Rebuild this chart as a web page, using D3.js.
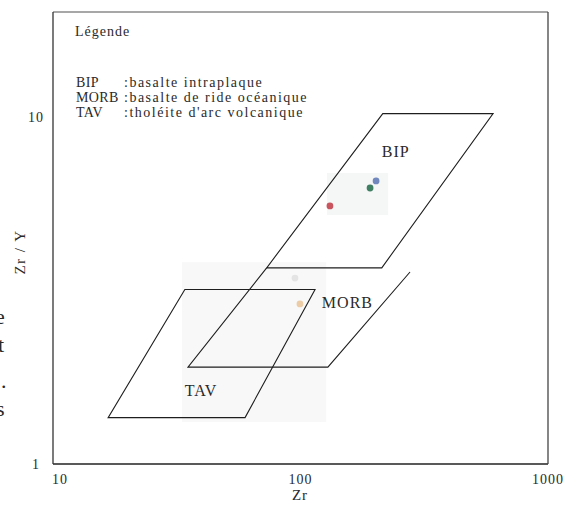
<!DOCTYPE html>
<html><head><meta charset="utf-8">
<script src="https://cdn.jsdelivr.net/npm/d3@7"></script>
<style>
body{margin:0;background:#fff}
svg{display:block}
text{font-family:"Liberation Serif","DejaVu Serif",serif;fill:#2a2a2a}
</style>
</head><body><svg width="575" height="507"></svg>
<script>
// ---- data ----
const xTicks = [10, 100, 1000];
const yTicks = [1, 10];
const xTitle = "Zr";
const yTitle = "Zr / Y";
const fieldNames = ["BIP", "MORB", "TAV"];
const bipField  = [[73, 3.67], [213, 3.67], [600, 10.2], [215, 10.2]];
const morbField = [[73, 3.67], [35.1, 1.9], [129, 1.9], [277, 3.57]];
const tavField  = [[34.1, 3.18], [114.5, 3.18], [59.7, 1.36], [16.7, 1.36]];
const fieldLabelZr  = [213, 122, 34.1];
const fieldLabelZrY = [7.65, 2.81, 1.57];
const sampleZr  = [131.5, 191, 202, 95, 99.5];
const sampleZrY = [5.53, 6.23, 6.53, 3.43, 2.89];
const sampleColors = ["#c9555f", "#3f7f62", "#7088bd", "#e4e4e4", "#ebcca6"];
const legendTitle = "Légende";
const legendCodes = ["BIP", "MORB", "TAV"];
const legendDescs = [":basalte intraplaque", ":basalte de ride océanique", ":tholéite d'arc volcanique"];
const shadeZr  = [[128, 226], [33.2, 127]];
const shadeZrY = [[5.21, 6.88], [1.32, 3.81]];
const marginFragments = ["e", "t", ".", "s"];

// ---- layout ----
const svg = d3.select("svg");
const x = d3.scaleLog().domain([10, 1000]).range([53, 548]);
const y = d3.scaleLog().domain([1, 20]).range([464, 12]);

// faint scan shading
svg.selectAll("rect.shade").data(shadeZr).join("rect")
  .attr("x", (d) => x(d[0])).attr("width", (d) => x(d[1]) - x(d[0]))
  .attr("y", (d, i) => y(shadeZrY[i][1]))
  .attr("height", (d, i) => y(shadeZrY[i][0]) - y(shadeZrY[i][1]))
  .attr("fill", (d, i) => i === 0 ? "#f5f7f7" : "#f8f8f8");

// frame
const [x0, x1] = x.range(), [y0, y1] = y.range();
svg.append("line").attr("x1", x0).attr("x2", x1).attr("y1", y1).attr("y2", y1)
  .attr("stroke", "#8a8a8a").attr("stroke-width", 1.3);
svg.append("line").attr("x1", x0).attr("x2", x1).attr("y1", y0).attr("y2", y0)
  .attr("stroke", "#222").attr("stroke-width", 1.6);
svg.append("line").attr("x1", x0).attr("x2", x0).attr("y1", y1).attr("y2", y0)
  .attr("stroke", "#333").attr("stroke-width", 1.3);
svg.append("line").attr("x1", x1).attr("x2", x1).attr("y1", y1).attr("y2", y0)
  .attr("stroke", "#444").attr("stroke-width", 1.3);

// tick labels
svg.selectAll("text.xt").data(xTicks).join("text")
  .attr("x", (d, i) => x(d) + (i === 0 ? 7 : 0)).attr("y", 484)
  .attr("text-anchor", "middle").attr("font-size", 14).attr("letter-spacing", 1)
  .text((d) => d);
svg.selectAll("text.yt").data(yTicks).join("text")
  .attr("x", 36).attr("y", (d) => y(d) + 5)
  .attr("text-anchor", "middle").attr("font-size", 14).attr("letter-spacing", 1)
  .text((d) => d);

svg.append("text").attr("x", 300).attr("y", 500).attr("text-anchor", "middle")
  .attr("font-size", 15).attr("letter-spacing", 1).text(xTitle);
svg.append("text").attr("transform", "translate(25,252) rotate(-90)")
  .attr("text-anchor", "middle").attr("font-size", 15).attr("letter-spacing", 1.5)
  .text(yTitle);

// fields
const line = d3.line().x((d) => x(d[0])).y((d) => y(d[1]));
[bipField, tavField].forEach((f) => {
  svg.append("path").attr("d", line(f) + "Z")
    .attr("fill", "none").attr("stroke", "#1e1e1e").attr("stroke-width", 1.1);
});
svg.append("path").attr("d", line(morbField))
  .attr("fill", "none").attr("stroke", "#1e1e1e").attr("stroke-width", 1.1);

svg.selectAll("text.fl").data(fieldNames).join("text")
  .attr("x", (d, i) => x(fieldLabelZr[i])).attr("y", (d, i) => y(fieldLabelZrY[i]))
  .attr("font-size", 16).attr("letter-spacing", 1)
  .text((d) => d);

// samples
svg.selectAll("circle").data(sampleZr).join("circle")
  .attr("cx", (d) => x(d)).attr("cy", (d, i) => y(sampleZrY[i]))
  .attr("r", 3.4).attr("fill", (d, i) => sampleColors[i]);

// legend
svg.append("text").attr("x", 75).attr("y", 36).attr("font-size", 14)
  .attr("letter-spacing", 1).text(legendTitle);
const lg = svg.selectAll("g.lg").data(legendCodes).join("g")
  .attr("transform", (d, i) => `translate(0,${87 + i * 15})`);
lg.append("text").attr("x", 76).attr("font-size", 14).attr("letter-spacing", 0.4).text((d) => d);
lg.append("text").attr("x", 124).attr("font-size", 14).attr("letter-spacing", 1.5)
  .text((d, i) => legendDescs[i]);

// cut-off page text on left margin
const fragY = [324, 352, 388, 416];
svg.selectAll("text.frag").data(marginFragments).join("text")
  .attr("x", (d, i) => [-5, -2, 1, -4][i]).attr("y", (d, i) => fragY[i])
  .attr("font-size", 22).attr("fill", "#222").text((d) => d);
</script>
</body></html>
